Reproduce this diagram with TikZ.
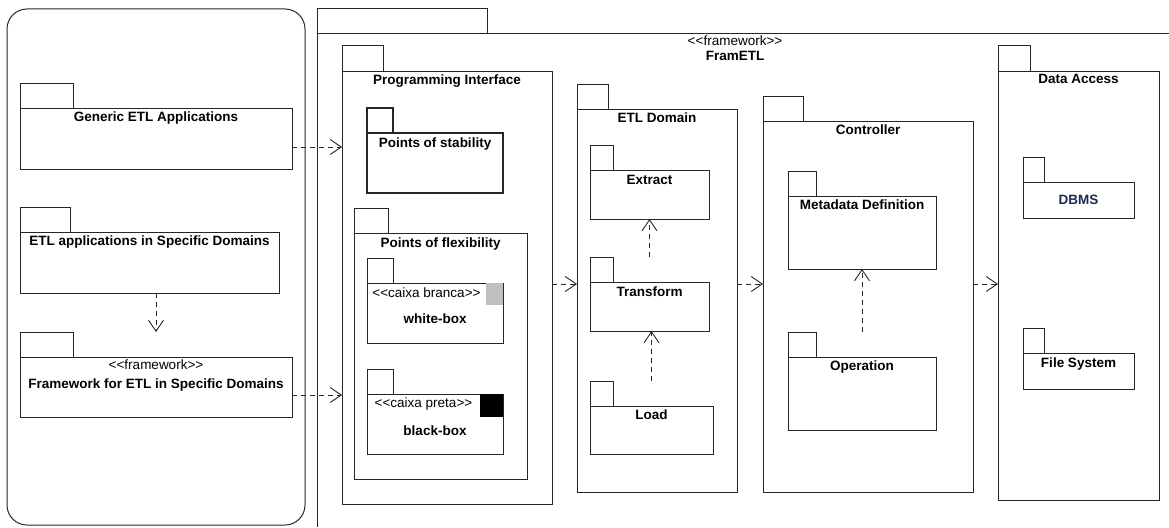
\documentclass[tikz,border=0pt]{standalone}
\usepackage{fontspec}
\setmainfont{Liberation Sans}
\usepackage{tikz}
\usetikzlibrary{arrows.meta, calc}
\newcommand{\pkgfont}{\fontsize{13.5}{16}\selectfont}
\newcommand{\st}[1]{<{}<#1>{}>}
\tikzstyle{pkg}=[draw=black!85, line width=1pt, rectangle, inner sep=0pt, outer sep=0pt, anchor=north west]
\tikzstyle{tabline}=[draw=black!85, line width=1pt]
\tikzstyle{pkgname}=[font=\pkgfont\bfseries, anchor=base, inner sep=0pt]
\tikzstyle{stereo}=[font=\pkgfont, anchor=base, inner sep=0pt]
\tikzstyle{dep}=[draw=black!85, line width=0.9pt, dash pattern=on 5pt off 4pt, -{Straight Barb[length=11pt, width=15pt]}]
\definecolor{dbmsblue}{RGB}{30,40,85}
% tab of a package: node name, tab width
\newcommand{\pkgtab}[3][]{\draw[tabline, #1] (#2.north west) rectangle ++(#3,-25);}

\begin{document}
\begin{tikzpicture}[x=1pt, y=-1pt]
		\useasboundingbox (0,0) rectangle (1169,527);
		% applications
		\node[pkg, rounded corners=20pt, minimum width=298pt, minimum height=516pt] (apps) at (7,9) {};
		\node[pkg, minimum width=272pt, minimum height=61pt] (gen) at (20,108) {};
		\pkgtab{gen}{53}
		\node[pkgname] at ([yshift=-13.5pt]gen.north) {Generic ETL Applications};
		\node[pkg, minimum width=259pt, minimum height=61pt] (spec) at (20,232) {};
		\pkgtab{spec}{50}
		\node[pkgname] at ([yshift=-13.5pt]spec.north) {ETL applications in Specific Domains};
		\node[pkg, minimum width=272pt, minimum height=60pt] (fw) at (20,357) {};
		\pkgtab{fw}{53}
		\node[stereo] at ([yshift=-12pt]fw.north) {\st{framework}};
		\node[pkgname] at ([yshift=-31pt]fw.north) {Framework for ETL in Specific Domains};
		% FramETL frame
		\draw[tabline] (317,527) -- (317,34) -- (1169,34);
		\draw[tabline] (317,34) rectangle (487,9);
		\coordinate (fram) at (735,34);
		\node[stereo] at ([yshift=-12pt]fram) {\st{framework}};
		\node[pkgname] at ([yshift=-26pt]fram) {FramETL};
		% programming interface
		\node[pkg, minimum width=210pt, minimum height=433pt] (pi) at (342,71) {};
		\pkgtab{pi}{41}
		\node[pkgname] at ([yshift=-13.5pt]pi.north) {Programming Interface};
		\node[pkg, line width=2.6pt, minimum width=136pt, minimum height=60pt] (stab) at (367,133) {};
		\pkgtab[line width=2.6pt]{stab}{26}
		\node[pkgname] at ([yshift=-14pt]stab.north) {Points of stability};
		\node[pkg, minimum width=173pt, minimum height=246pt] (flex) at (354,233) {};
		\pkgtab{flex}{34}
		\node[pkgname] at ([yshift=-14pt]flex.north) {Points of flexibility};
		\node[pkg, minimum width=136pt, minimum height=60pt] (wbox) at (367,283) {};
		\pkgtab{wbox}{26}
		\node[pkg, draw=none, fill=black!25, minimum width=17pt, minimum height=22pt, anchor=north east] (wsq) at (wbox.north east) {};
		\node[stereo] at ($(wbox.north west)!0.5!(wsq.north west)+(0,14)$) {\st{caixa branca}};
		\node[pkgname] at ([yshift=-40pt]wbox.north) {white-box};
		\node[pkg, minimum width=136pt, minimum height=60pt] (bbox) at (367,394) {};
		\pkgtab{bbox}{26}
		\node[pkg, draw=none, fill=black, minimum width=23pt, minimum height=23pt, anchor=north east] (bsq) at (bbox.north east) {};
		\node[stereo] at ($(bbox.north west)!0.5!(bsq.north west)+(0,13)$) {\st{caixa preta}};
		\node[pkgname] at ([yshift=-41pt]bbox.north) {black-box};
		% ETL domain
		\node[pkg, minimum width=160pt, minimum height=383pt] (etl) at (577,109) {};
		\pkgtab{etl}{31}
		\node[pkgname] at ([yshift=-13pt]etl.north) {ETL Domain};
		\node[pkg, minimum width=119pt, minimum height=49pt] (ext) at (590,170) {};
		\pkgtab{ext}{23}
		\node[pkgname] at ([yshift=-14pt]ext.north) {Extract};
		\node[pkg, minimum width=119pt, minimum height=49pt] (trf) at (590,282) {};
		\pkgtab{trf}{23}
		\node[pkgname] at ([yshift=-14pt]trf.north) {Transform};
		\node[pkg, minimum width=123pt, minimum height=48pt] (load) at (590,406) {};
		\pkgtab{load}{23}
		\node[pkgname] at ([yshift=-13pt]load.north) {Load};
		% controller
		\node[pkg, minimum width=210pt, minimum height=371pt] (ctl) at (763,121) {};
		\pkgtab{ctl}{40}
		\node[pkgname] at ([yshift=-13pt]ctl.north) {Controller};
		\node[pkg, minimum width=148pt, minimum height=73pt] (meta) at (788,196) {};
		\pkgtab{meta}{28}
		\node[pkgname] at ([yshift=-13pt]meta.north) {Metadata Definition};
		\node[pkg, minimum width=148pt, minimum height=73pt] (op) at (788,357) {};
		\pkgtab{op}{28}
		\node[pkgname] at ([yshift=-13pt]op.north) {Operation};
		% data access
		\node[pkg, minimum width=161pt, minimum height=429pt] (da) at (998,71) {};
		\pkgtab{da}{32}
		\node[pkgname] at ([yshift=-12.5pt]da.north) {Data Access};
		\node[pkg, minimum width=111pt, minimum height=36pt] (dbms) at (1023,182) {};
		\pkgtab{dbms}{21}
		\node[pkgname, text=dbmsblue] at ([yshift=-22pt]dbms.north) {DBMS};
		\node[pkg, minimum width=111pt, minimum height=36pt] (fs) at (1023,353) {};
		\pkgtab{fs}{21}
		\node[pkgname] at ([yshift=-14pt]fs.north) {File System};
		% dependencies
		\coordinate (row1) at (0,147);
		\coordinate (row2) at (0,395);
		\coordinate (row3) at (0,284);
		\draw[dep] (gen.east |- row1) -- (pi.west |- row1);
		\draw[dep] (fw.east |- row2) -- (pi.west |- row2);
		\draw[dep] (fw.north |- spec.south) -- ([yshift=25pt]fw.north);
		\draw[dep] (pi.east |- row3) -- (etl.west |- row3);
		\draw[dep] (etl.east |- row3) -- (ctl.west |- row3);
		\draw[dep] (ctl.east |- row3) -- (da.west |- row3);
		\draw[dep] ([yshift=25pt]trf.north) -- (ext.south);
		\draw[dep] ([yshift=25pt]load.north) -- (load.north |- trf.south);
		\draw[dep] ([yshift=25pt]op.north) -- (meta.south);
	\end{tikzpicture}
\end{document}
